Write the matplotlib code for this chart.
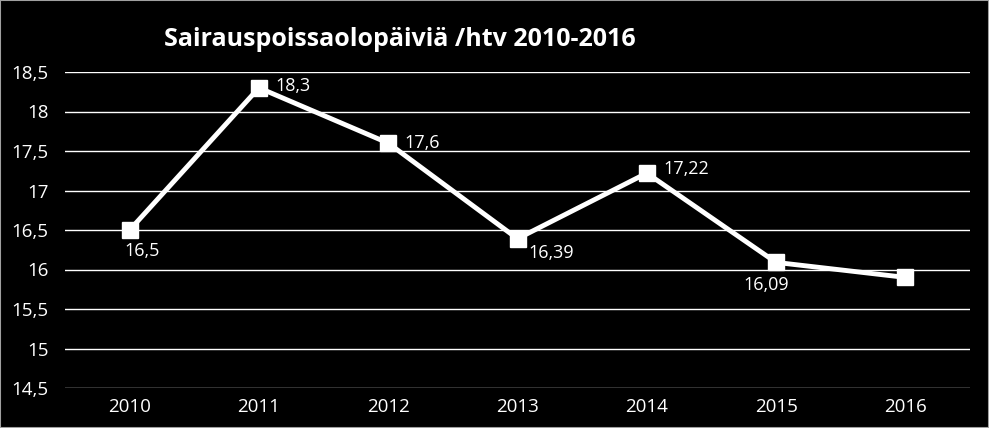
import numpy as np
import matplotlib.pyplot as plt
import matplotlib.patches as patches

BG = "#000000"
WHITE = "#ffffff"

years = ["2010", "2011", "2012", "2013", "2014", "2015", "2016"]
values = [16.5, 18.3, 17.6, 16.39, 17.22, 16.09, 15.9]
labels = ["16,5", "18,3", "17,6", "16,39", "17,22", "16,09", None]
# label offsets in points (dx, dy) and alignment
offsets = [(-4, -9, "left", "top"), (12, 1, "left", "center"),
           (12, 0, "left", "center"), (8, -4, "left", "top"),
           (12, 3, "left", "center"), (-7, -10, "center", "top"), None]
yticks = [14.5, 15, 15.5, 16, 16.5, 17, 17.5, 18, 18.5]

plt.rcParams['font.family'] = ['Open Sans', 'DejaVu Sans']

fig = plt.figure(figsize=(9.89, 4.28), dpi=100, facecolor=BG)
ax = fig.add_axes([65 / 989, 40 / 428, 905 / 989, 316 / 428])
ax.set_facecolor(BG)

x = np.arange(len(years))
ax.plot(x, values, color=WHITE, lw=3.5, marker="s", markersize=12, zorder=5)

for xi, v, lab, off in zip(x, values, labels, offsets):
    if lab is None:
        continue
    dx, dy, ha, va = off
    ax.annotate(lab, (xi, v), xytext=(dx, dy), textcoords="offset points",
                ha=ha, va=va, color=WHITE, fontsize=13)

ax.set_xlim(-0.5, len(years) - 0.5)
ax.set_ylim(14.5, 18.5)
ax.set_yticks(yticks)
ax.set_yticklabels([f"{t:g}".replace(".", ",") for t in yticks])
ax.set_xticks(x)
ax.set_xticklabels(years)
ax.tick_params(colors=WHITE, labelsize=13.5, length=0)
ax.tick_params(axis="y", pad=12)
ax.tick_params(axis="x", pad=7)
ax.grid(axis="y", color=WHITE, lw=1)
ax.set_axisbelow(True)
for s in ax.spines.values():
    s.set_visible(False)

fig.text(400 / 989, 1 - 40 / 428, "Sairauspoissaolopäiviä /htv 2010-2016",
         ha="center", va="center", color=WHITE, fontsize=18, fontweight="bold")

fig.patches.append(patches.Rectangle((0, 0), 1, 1, transform=fig.transFigure,
                                     fill=False, edgecolor="#a0a0a0", lw=1.5))

fig.savefig("out.png", dpi=100, facecolor=BG)
